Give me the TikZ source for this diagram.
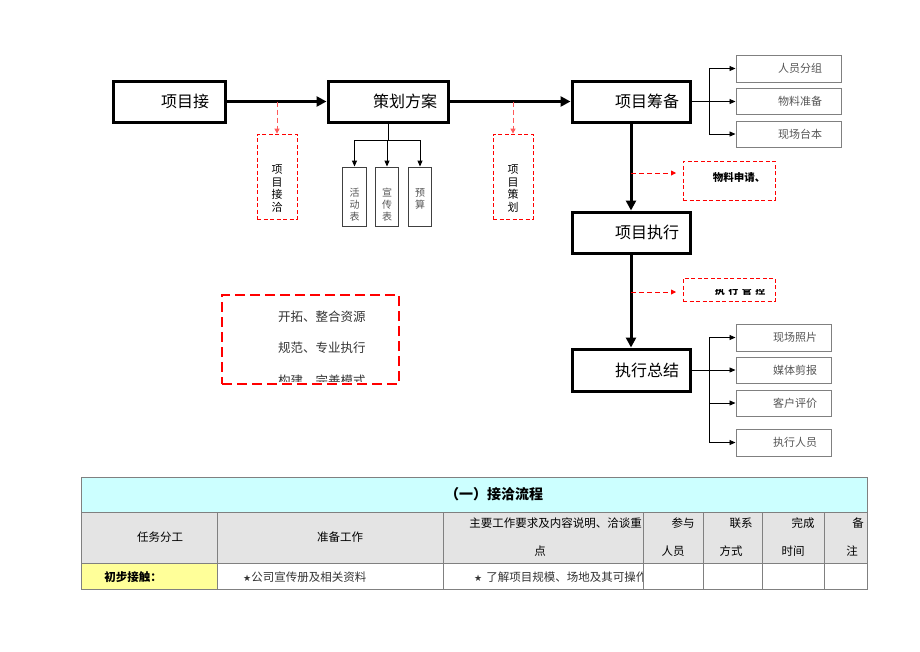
\documentclass[tikz,border=0pt]{standalone}
\usepackage{fontspec}
\setmainfont{Noto Sans CJK SC}
\newfontfamily\symfont{DejaVu Sans}
\usetikzlibrary{arrows.meta}
\definecolor{tcyan}{HTML}{CCFFFF}
\definecolor{tgray}{HTML}{E4E4E4}
\definecolor{tyellow}{HTML}{FFFF99}
\definecolor{lred}{HTML}{FF5A5A}
\definecolor{gline}{HTML}{808080}
\definecolor{gtext}{HTML}{555555}
\begin{document}
\begin{tikzpicture}[x=1pt,y=-1pt,
  mainbox/.style={draw, line width=3pt, minimum height=41pt, inner xsep=11pt, inner ysep=0pt, align=right, font=\fontsize{16}{18}\selectfont},
  subbox/.style={draw=gline, line width=1pt, inner ysep=0pt, align=right, text=gtext, font=\fontsize{11}{13}\selectfont},
  vbox/.style={draw=black!75, line width=0.9pt, minimum width=23pt, minimum height=59pt},
  vtext/.style={align=center, inner sep=0pt, font=\fontsize{10}{12}\selectfont, text=gtext},
  rdbox/.style={draw=red, line width=0.8pt, dash pattern=on 4pt off 2.5pt},
  bigarrow/.style={line width=3pt, -{Triangle[length=10pt,width=10pt]}},
  thinarrow/.style={line width=0.9pt, -{Triangle[length=6pt,width=5pt]}},
  redarrow/.style={draw=red, line width=0.9pt, dash pattern=on 5pt off 3pt, -{Triangle[length=5pt,width=5pt]}},
  lredarrow/.style={draw=lred, line width=1pt, dash pattern=on 5pt off 3pt, -{Triangle[length=5pt,width=5pt]}},
  celltext/.style={inner sep=0pt, font=\fontsize{11.5}{13}\selectfont},
  gbtext/.style={anchor=west, inner sep=0pt, text=black!80, font=\fontsize{12.5}{14}\selectfont}
]
\useasboundingbox (0,0) rectangle (920,651);

% ---- main boxes
\node[mainbox, minimum width=112pt, text width=80pt, inner xsep=16pt] (jj) at (169,101.5) {项目接};
\node[mainbox, minimum width=120pt, text width=98pt] (ch) at (388,101.5) {策划方案};
\node[mainbox, minimum width=118pt, text width=96pt] (zb) at (631,101.5) {项目筹备};
\node[mainbox, minimum width=118pt, text width=96pt] (zx) at (631,232.5) {项目执行};
\node[mainbox, minimum width=118pt, text width=96pt, minimum height=42pt] (zj) at (631,370) {执行总结};

\draw[bigarrow] (jj.east) -- (ch.west);
\draw[bigarrow] (ch.east) -- (zb.west);
\draw[bigarrow] (zb.south) -- (zx.north);
\draw[bigarrow] (zx.south) -- (zj.north);

% ---- red dashed side boxes (top)
\node[rdbox, minimum width=40pt, minimum height=85pt] (jq) at (277,176.5) {};
\node[vtext, text=black, font=\fontsize{11}{12.4}\selectfont] (jqt) at (277,188.5) {项\\目\\接\\洽};
\node[rdbox, minimum width=40pt, minimum height=85pt] (xc) at (513,176.5) {};
\node[vtext, text=black, font=\fontsize{11}{12.4}\selectfont] (xct) at (513,188.5) {项\\目\\策\\划};
\coordinate (p1) at (277,101.5);
\coordinate (p2) at (513,101.5);
\draw[lredarrow] (p1) -- (jq.north);
\draw[lredarrow] (p2) -- (xc.north);

% ---- plan sub boxes
\node[vbox, minimum width=24pt] (v1) at (354.5,196.5) {};
\node[vbox] (v2) at (387,196.5) {};
\node[vbox] (v3) at (420,196.5) {};
\node[vtext] (v1t) at (354.5,205) {活\\动\\表};
\node[vtext] (v2t) at (387,205) {宣\\传\\表};
\node[vtext] (v3t) at (420,198.5) {预\\算};
\coordinate (chb) at (388,140);
\draw[line width=0.9pt] (ch.south) -- (chb);
\draw[line width=0.9pt] (354.5,140) -- (420,140);
\draw[thinarrow] (chb -| v1.north) -- (v1.north);
\draw[thinarrow] (chb -| v2.north) -- (v2.north);
\draw[thinarrow] (chb -| v3.north) -- (v3.north);

% ---- preparation sub boxes
\node[subbox, minimum width=105pt, minimum height=27pt, text width=67pt, inner xsep=19pt] (r1) at (788.5,68.5) {人员分组};
\node[subbox, minimum width=105pt, minimum height=26pt, text width=67pt, inner xsep=19pt] (r2) at (788.5,101.5) {物料准备};
\node[subbox, minimum width=105pt, minimum height=26pt, text width=67pt, inner xsep=19pt] (r3) at (788.5,134) {现场台本};
\coordinate (jx1) at (709,101.5);
\draw[line width=0.9pt] (zb.east) -- (jx1);
\draw[thinarrow] (jx1) -- (r2.west);
\draw[thinarrow] (jx1) |- (r1.west);
\draw[thinarrow] (jx1) |- (r3.west);

% ---- red dashed boxes (right)
\node[rdbox, minimum width=92pt, minimum height=39pt] (wl) at (729,180.5) {};
\node[inner sep=0pt, font=\bfseries\fontsize{10.5}{12}\selectfont] (wlt) at (739,177.5) {物料申请、};
\coordinate (p3) at (631,173);
\coordinate (p3e) at (676,173);
\draw[redarrow] (p3) -- (p3e);

\begin{scope}
\clip (683,289.5) rectangle (775,301);
\node[inner sep=0pt, font=\bfseries\fontsize{10}{12}\selectfont] (gkt) at (740,291) {执\hspace{3.5pt}行\hspace{3.5pt}管\hspace{3.5pt}控};
\end{scope}
\node[rdbox, minimum width=92pt, minimum height=23pt] (gk) at (729,289.5) {};
\coordinate (p4) at (631,292);
\coordinate (p4e) at (676,292);
\draw[redarrow] (p4) -- (p4e);

% ---- summary sub boxes
\node[subbox, minimum width=95pt, minimum height=27pt, text width=67pt, inner xsep=14pt] (s1) at (783.5,337.5) {现场照片};
\node[subbox, minimum width=95pt, minimum height=26pt, text width=67pt, inner xsep=14pt] (s2) at (783.5,370) {媒体剪报};
\node[subbox, minimum width=95pt, minimum height=26pt, text width=67pt, inner xsep=14pt] (s3) at (783.5,403) {客户评价};
\node[subbox, minimum width=95pt, minimum height=27pt, text width=67pt, inner xsep=14pt] (s4) at (783.5,442.5) {执行人员};
\coordinate (jx2) at (709,370);
\draw[line width=0.9pt] (zj.east) -- (jx2);
\draw[thinarrow] (jx2) -- (s2.west);
\draw[thinarrow] (jx2) |- (s1.west);
\draw[thinarrow] (jx2) |- (s3.west);
\draw[thinarrow] (jx2) |- (s4.west);

% ---- big dashed box
\node[gbtext] (g1) at (278,317) {开拓、整合资源};
\node[gbtext] (g2) at (278,348) {规范、专业执行};
\begin{scope}
\clip (222,360) rectangle (399,381);
\node[gbtext] (g3) at (278,381) {构建、完善模式};
\end{scope}
\node[draw=red, line width=2.6pt, dash pattern=on 10pt off 5pt, minimum width=177pt, minimum height=89pt] (gb) at (310.5,339.5) {};

% ---- table
\fill[tcyan] (81,477) rectangle (867,512);
\fill[tgray] (81,512) rectangle (867,563);
\fill[tyellow] (81,563) rectangle (217,589);
\draw[gline, line width=0.9pt] (81,477) rectangle (867,589);
\draw[gline, line width=0.9pt] (81,512) -- (867,512);
\draw[gline, line width=0.9pt] (81,563) -- (867,563);
\foreach \cx in {217,443,643,703,762,824} {
  \draw[gline, line width=0.9pt] (\cx,512) -- (\cx,589);
}
\node[inner sep=0pt, font=\bfseries\fontsize{14}{16}\selectfont] (tt) at (494,494) {（一）接洽流程};
\node[celltext] (h1) at (160,537) {任务分工};
\node[celltext] (h2) at (340,537) {准备工作};
\node[celltext, anchor=east] (h3a) at (642,523) {主要工作要求及内容说明、洽谈重};
\node[celltext] (h3b) at (540,551) {点};
\node[celltext] (h4a) at (683,523) {参与};
\node[celltext] (h4b) at (673,551) {人员};
\node[celltext] (h5a) at (741,523) {联系};
\node[celltext] (h5b) at (731,551) {方式};
\node[celltext] (h6a) at (803,523) {完成};
\node[celltext] (h6b) at (793,551) {时间};
\node[celltext] (h7a) at (858,523) {备};
\node[celltext] (h7b) at (852,551) {注};
\node[celltext, font=\bfseries\fontsize{11.5}{13}\selectfont] (c1) at (133,577) {初步接触：};
\node[celltext, anchor=west, text=black!80] (c2) at (243,577) {{\symfont\fontsize{9}{10}\selectfont ★}公司宣传册及相关资料};
\begin{scope}
\clip (444,564) rectangle (642.5,588);
\node[celltext, anchor=west, text=black!80] (c3) at (474,577) {{\symfont\fontsize{9}{10}\selectfont ★}\hspace{4pt}了解项目规模、场地及其可操作性};
\end{scope}
\end{tikzpicture}
\end{document}
